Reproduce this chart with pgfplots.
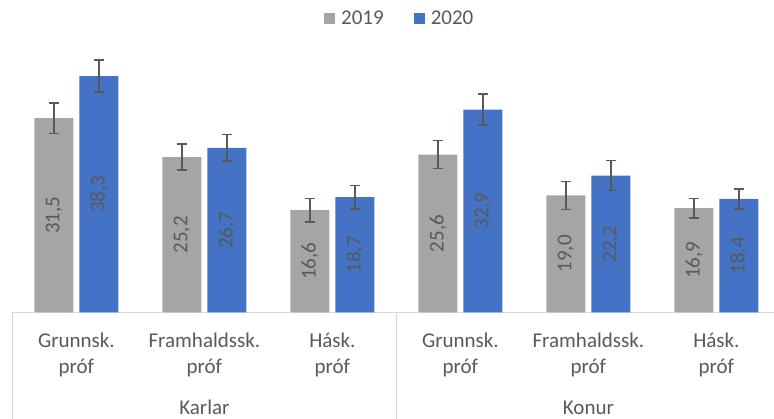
\documentclass[border=0pt]{standalone}
\usepackage{pgfplots}
\pgfplotsset{compat=1.18}
\usepackage{fontspec}
\setmainfont{Carlito}
\definecolor{g19}{HTML}{A5A5A5}
\definecolor{b20}{HTML}{4472C4}
\definecolor{txt}{HTML}{595959}
\definecolor{sep}{HTML}{D9D9D9}
\newcommand{\lf}{\fontsize{21}{25}\selectfont}
\begin{document}
\begin{tikzpicture}
\begin{axis}[
  at={(12.4pt,106.5pt)}, anchor=south west,
  scale only axis, width=761.6pt, height=308.5pt,
  xmin=-0.5, xmax=5.45, ymin=0, ymax=50,
  axis y line=none, axis x line*=bottom,
  x axis line style={sep, line width=1.5pt, -},
  xtick=\empty, ytick=\empty,
  ybar=6pt, bar width=39pt,
  clip=false,
  font=\lf,
  visualization depends on={rawy \as \rawy},
  nodes near coords={\pgfmathprintnumber[fixed,fixed zerofill,precision=1,use comma,assume math mode=true]{\rawy}},
  every node near coord/.append style={yshift={-3.085pt*\rawy}, rotate=90, anchor=center, text=txt, font=\lf},
  error bars/y dir=both, error bars/y explicit,
  error bars/error bar style={txt, line width=1.5pt},
  error bars/error mark options={rotate=90, mark size=5pt, line width=1.5pt, txt},
  legend style={at={(0.5086,0.9546)}, anchor=center, draw=none, fill=none,
    legend columns=2, font=\lf, text=txt,
    /tikz/every even column/.append style={column sep=28pt}},
]
\addplot[fill=g19, draw=none,
  legend image code/.code={\fill[g19] (0pt,-5.5pt) rectangle (11pt,5.5pt); \path (0pt,0pt) -- (15pt,0pt);}]
  coordinates {(0,31.5) +- (0,2.46) (1,25.2) +- (0,2.1) (2,16.6) +- (0,1.9)
               (3,25.6) +- (0,2.3) (4,19.0) +- (0,2.27) (5,16.9) +- (0,1.55)};
\addplot[fill=b20, draw=none,
  legend image code/.code={\fill[b20] (0pt,-5.5pt) rectangle (11pt,5.5pt); \path (0pt,0pt) -- (15pt,0pt);}]
  coordinates {(0,38.3) +- (0,2.6) (1,26.7) +- (0,2.16) (2,18.7) +- (0,1.9)
               (3,32.9) +- (0,2.5) (4,22.2) +- (0,2.4) (5,18.4) +- (0,1.65)};
\legend{2019,2020}
\draw[sep, line width=1.5pt] (axis cs:-0.5,0) -- ++(0pt,-106.5pt);
\draw[sep, line width=1.5pt] (axis cs:2.5,0) -- ++(0pt,-106.5pt);
\node[anchor=base, text=txt, font=\lf, yshift=-34.8pt] at (axis cs:0,0) {Grunnsk.};
\node[anchor=base, text=txt, font=\lf, yshift=-61.5pt] at (axis cs:0,0) {próf};
\node[anchor=base, text=txt, font=\lf, yshift=-34.8pt] at (axis cs:1,0) {Framhaldssk.};
\node[anchor=base, text=txt, font=\lf, yshift=-61.5pt] at (axis cs:1,0) {próf};
\node[anchor=base, text=txt, font=\lf, yshift=-34.8pt] at (axis cs:2,0) {Hásk.};
\node[anchor=base, text=txt, font=\lf, yshift=-61.5pt] at (axis cs:2,0) {próf};
\node[anchor=base, text=txt, font=\lf, yshift=-34.8pt] at (axis cs:3,0) {Grunnsk.};
\node[anchor=base, text=txt, font=\lf, yshift=-61.5pt] at (axis cs:3,0) {próf};
\node[anchor=base, text=txt, font=\lf, yshift=-34.8pt] at (axis cs:4,0) {Framhaldssk.};
\node[anchor=base, text=txt, font=\lf, yshift=-61.5pt] at (axis cs:4,0) {próf};
\node[anchor=base, text=txt, font=\lf, yshift=-34.8pt] at (axis cs:5,0) {Hásk.};
\node[anchor=base, text=txt, font=\lf, yshift=-61.5pt] at (axis cs:5,0) {próf};
\node[anchor=base, text=txt, font=\lf, yshift=-101.8pt] at (axis cs:1,0) {Karlar};
\node[anchor=base, text=txt, font=\lf, yshift=-101.8pt] at (axis cs:4,0) {Konur};
\end{axis}
\pgfresetboundingbox
\useasboundingbox (0pt,0pt) rectangle (774pt,419pt);
\end{tikzpicture}
\end{document}
